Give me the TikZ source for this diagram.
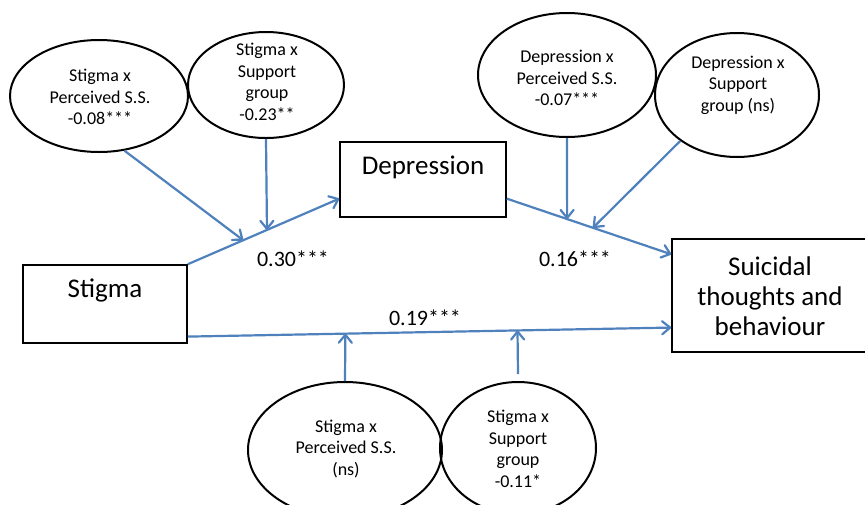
\documentclass[tikz,border=0pt]{standalone}
\usepackage{fontspec}
\setmainfont{Carlito}
\usetikzlibrary{arrows.meta,calc,shapes.geometric}
\definecolor{arrblue}{RGB}{79,129,189}
\tikzset{
 ellip/.style={ellipse,draw=black,line width=2pt,inner sep=0pt},
 box/.style={rectangle,draw=black,line width=1.5pt,inner sep=0pt},
 etext/.style={align=center,font=\fontsize{18}{21.5}\selectfont,inner sep=0pt},
 btext/.style={align=center,font=\fontsize{27}{30}\selectfont,inner sep=0pt},
 coef/.style={font=\fontsize{22}{24}\selectfont,inner sep=0pt},
 arr/.style={draw=arrblue,line width=2.2pt,-{Straight Barb[length=8pt,width=13pt,round]}},
}
\begin{document}
\begin{tikzpicture}[x=1pt,y=-1pt]
\clip (0,0) rectangle (865,504);
\fill[white] (0,0) rectangle (865,504);

% boxes
\node[box,minimum width=164pt,minimum height=78pt] (S) at (105,304) {};
\node[btext] (St) at (105,290) {Stigma};
\node[box,minimum width=166pt,minimum height=75pt] (Dp) at (423,179.5) {};
\node[btext] (Dpt) at (423,167) {Depression};
\node[box,minimum width=205pt,minimum height=113pt] (T) at (774.5,295.5) {};
\node[btext] (Tt) at (770,296) {Suicidal\\thoughts and\\behaviour};

% ellipses
\node[ellip,minimum width=178pt,minimum height=112pt] (A) at (99,96) {};
\node[etext] (At) at (100,97) {Stigma x\\Perceived S.S.\\-0.08***};
\node[ellip,minimum width=156pt,minimum height=106pt] (B) at (266,85) {};
\node[etext] (Bt) at (267,82) {Stigma x\\Support\\group\\-0.23**};
\node[ellip,minimum width=178pt,minimum height=124pt] (C) at (567,75) {};
\node[etext] (Ct) at (567,78) {Depression x\\Perceived S.S.\\-0.07***};
\node[ellip,minimum width=164pt,minimum height=124pt] (D) at (737,95) {};
\node[etext] (Dt) at (738,85) {Depression x\\Support\\group (ns)};
\node[ellip,minimum width=194pt,minimum height=136pt] (E) at (345,450) {};
\node[etext] (Et) at (346,449) {Stigma x\\Perceived S.S.\\(ns)};
\node[ellip,minimum width=156pt,minimum height=132pt] (F) at (518,448) {};
\node[etext] (Ft) at (518,449) {Stigma x\\Support\\group\\-0.11*};

% main paths
\coordinate (e1) at ($(Dp.south west)!0.25!(Dp.north west)$);
\coordinate (s2) at ($(Dp.south east)!0.25!(Dp.north east)$);
\coordinate (e2) at ($(T.north west)!0.14!(T.south west)$);
\coordinate (s3) at ($(S.south east)!0.09!(S.north east)$);
\coordinate (e3) at ($(T.south west)!0.22!(T.north west)$);
\draw[arr] (S.north east) -- (e1);
\draw[arr] (s2) -- (e2);
\draw[arr] (s3) -- (e3);

% moderator arrows
\coordinate (mA) at ($(S.north east)!0.366!(e1)$);
\coordinate (mB) at ($(S.north east)!0.523!(e1)$);
\coordinate (mC) at ($(s2)!0.367!(e2)$);
\coordinate (mD) at ($(s2)!0.524!(e2)$);
\coordinate (mE) at ($(s3)!0.326!(e3)$);
\coordinate (mF) at ($(s3)!0.682!(e3)$);
\draw[arr] (A.-65) -- (mA);
\draw[arr] (B.south) -- (mB);
\draw[arr] (C.south) -- (mC);
\draw[arr] (D.-141.7) -- (mD);
\draw[arr] (E.north) -- (mE);
\draw[arr] ($(F.north)+(0,-7)$) -- (mF);

% coefficients
\node[coef] (c1) at (293,259) {0.30***};
\node[coef] (c2) at (575,259) {0.16***};
\node[coef] (c3) at (425,318) {0.19***};
\end{tikzpicture}
\end{document}
